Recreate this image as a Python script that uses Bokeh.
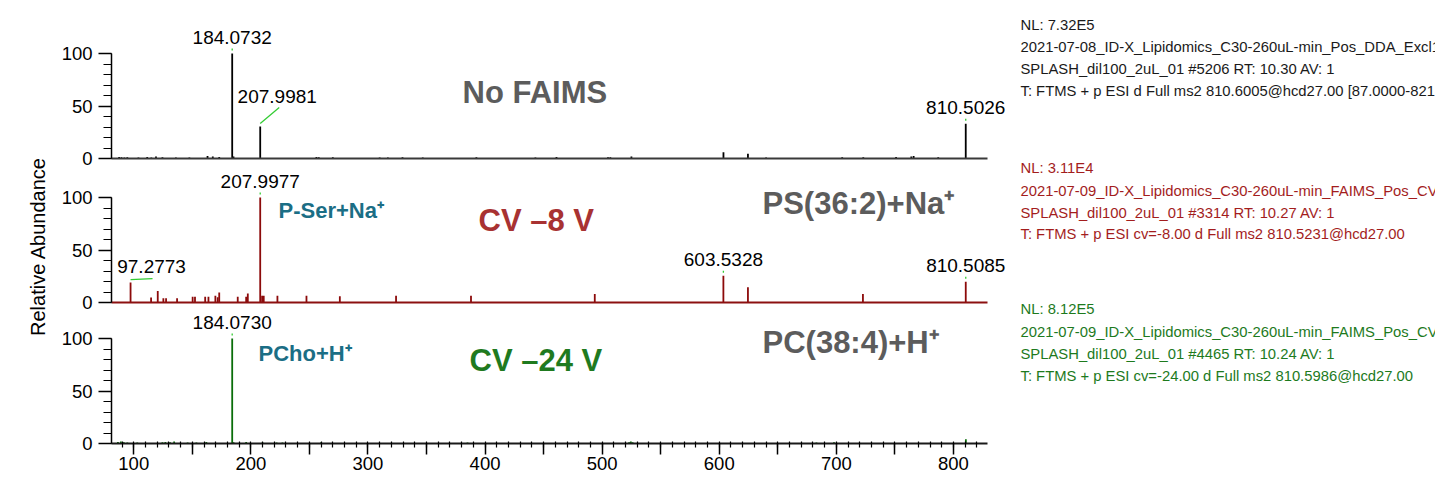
import math
from bokeh.plotting import figure
from bokeh.models import Range1d, SingleIntervalTicker, FixedTicker, Label, ColumnDataSource
from bokeh.layouts import row, column
from bokeh.embed import file_html
from bokeh.resources import INLINE
from bokeh.core.properties import value

# ---------------- data ----------------
NOFAIMS_MZ = [87.5, 89.5, 92.0, 94.5, 104.0, 111.5, 115.0, 119.0, 124.5, 136.0, 147.5, 163.0, 167.5,
              173.0, 184.0732, 185.2, 207.9981, 256.0, 258.0, 270.0, 310.0, 317.0, 329.5, 346.8, 392.6,
              443.0, 461.0, 505.0, 507.0, 525.0, 603.6, 624.5, 640.0, 705.0, 723.0, 751.0, 764.0, 766.0,
              787.0, 810.5026]
NOFAIMS_INT = [1.5, 1.2, 1.0, 1.2, 1.0, 1.5, 1.0, 1.8, 1.2, 1.0, 1.0, 2.5, 1.8,
               1.5, 100.0, 2.0, 30.5, 1.5, 1.2, 1.2, 1.0, 1.0, 1.2, 1.0, 1.2,
               1.0, 1.5, 1.2, 1.2, 2.0, 6.0, 4.5, 1.0, 1.2, 1.2, 1.5, 2.0, 2.5,
               1.2, 33.0]
NOFAIMS_LABELS = [184.0732, 207.9981, 810.5026]

CV8_MZ = [97.2773, 114.8, 120.5, 125.3, 127.6, 137.0, 150.3, 152.3, 161.0, 163.8, 169.7, 171.7, 173.0,
          188.8, 196.0, 197.4, 207.9977, 209.6, 211.0, 222.7, 247.5, 276.0, 324.0, 388.0, 493.7,
          603.5328, 624.5, 722.7, 810.5085]
CV8_INT = [19.0, 4.8, 11.0, 4.0, 4.0, 4.0, 5.5, 5.5, 5.5, 5.5, 6.5, 5.0, 9.5,
           5.5, 5.5, 8.5, 100.0, 6.5, 6.5, 6.5, 6.5, 6.0, 6.5, 6.5, 8.0,
           25.4, 14.5, 8.0, 19.7]
CV8_LABELS = [97.2773, 207.9977, 603.5328, 810.5085]

CV24_MZ = [86.5, 89.0, 91.5, 94.5, 103.0, 124.5, 127.0, 131.0, 134.5, 146.0, 153.5, 162.0, 184.0730,
           185.2, 196.0, 210.0, 222.0, 227.0, 260.0, 385.0, 523.0, 524.5, 526.0, 683.0, 698.0, 810.6]
CV24_INT = [1.5, 1.8, 1.2, 1.0, 1.0, 1.2, 1.5, 1.2, 1.8, 1.0, 1.0, 1.5, 100.0,
            1.2, 1.5, 1.0, 1.0, 1.0, 1.2, 1.0, 1.2, 1.8, 1.2, 1.0, 1.2, 4.0]
CV24_LABELS = [184.0730]

X_TICK_LABELS = {100: "100", 200: "200", 300: "300", 400: "400", 500: "500", 600: "600", 700: "700", 800: "800"}
X_TITLE = "m/z"
Y_TITLE = "Relative Abundance"

INFO_NOFAIMS = ["NL: 7.32E5",
                "2021-07-08_ID-X_Lipidomics_C30-260uL-min_Pos_DDA_Excl100",
                "SPLASH_dil100_2uL_01 #5206 RT: 10.30 AV: 1",
                "T: FTMS + p ESI d Full ms2 810.6005@hcd27.00 [87.0000-821.0000]"]
INFO_CV8 = ["NL: 3.11E4",
            "2021-07-09_ID-X_Lipidomics_C30-260uL-min_FAIMS_Pos_CV-8",
            "SPLASH_dil100_2uL_01 #3314 RT: 10.27 AV: 1",
            "T: FTMS + p ESI cv=-8.00 d Full ms2 810.5231@hcd27.00"]
INFO_CV24 = ["NL: 8.12E5",
             "2021-07-09_ID-X_Lipidomics_C30-260uL-min_FAIMS_Pos_CV-24",
             "SPLASH_dil100_2uL_01 #4465 RT: 10.24 AV: 1",
             "T: FTMS + p ESI cv=-24.00 d Full ms2 810.5986@hcd27.00"]

# ---------------- layout / style ----------------
FONT = "Liberation Sans"
X_MIN, X_MAX = 81.0, 829.0
PX_MZ = 1.171      # pixels per m/z unit
PX_INT = 1.05      # pixels per % relative abundance
TOTAL_H = 485
LABEL_W = 50       # strip holding the y title
MAIN_W = 960
RIGHT_W = 425
FRAME_LEFT = 111   # page x of the y axes
GRAY = "#5c5c5c"
TEAL = "#1b6e85"

x_range = Range1d(X_MIN, X_MIN + (LABEL_W + MAIN_W - FRAME_LEFT) / PX_MZ)

# label offset styles (screen px): text dx, dy ; connector dx, dy
LABEL_STYLE = {207.9981: (17, -30, 19, 16), 97.2773: (21, -16, 22, 1)}
DEFAULT_STYLE = (0, -16, 0, 2)


def mz_at(page_x):
    return X_MIN + (page_x - FRAME_LEFT) / PX_MZ


def style_yaxis(ax):
    ax.bounds = (0, 100)
    ax.ticker = SingleIntervalTicker(interval=50, num_minor_ticks=5)
    ax.major_tick_out = 13
    ax.major_tick_in = 0
    ax.minor_tick_out = 8
    ax.minor_tick_in = 0
    ax.axis_line_color = "black"
    ax.axis_line_width = 1.5
    ax.major_tick_line_width = 1.5
    ax.minor_tick_line_width = 1.2
    ax.major_label_text_font = FONT
    ax.major_label_text_font_size = "18.5px"
    ax.major_label_text_color = "black"
    ax.major_label_standoff = 6


def make_panel(height, top_page, zero_page, bottom_border, mzs, ints, labels, color, base_color):
    frame_h = zero_page - top_page
    p = figure(width=MAIN_W, height=height, x_range=x_range,
               y_range=Range1d(0, frame_h / PX_INT),
               output_backend="svg", toolbar_location=None,
               min_border_left=FRAME_LEFT - LABEL_W, min_border_right=0,
               min_border_top=0, min_border_bottom=bottom_border)
    p.grid.visible = False
    p.outline_line_color = None
    style_yaxis(p.yaxis[0])
    xa = p.xaxis[0]
    xa.bounds = (X_MIN, X_MAX)
    xa.axis_line_color = base_color
    xa.axis_line_width = 2.2

    src = ColumnDataSource(dict(mz=mzs, inten=ints))
    p.segment(x0="mz", y0=0, x1="mz", y1="inten", source=src, line_color=color, line_width=1.8)

    lookup = dict(zip(mzs, ints))
    lx, ly, lt, ldx, ldy = [], [], [], [], []
    cx0, cy0, cx1, cy1 = [], [], [], []
    for m in labels:
        inten = lookup[m]
        tdx, tdy, cdx, cdy = LABEL_STYLE.get(m, DEFAULT_STYLE)
        lx.append(m); ly.append(inten); lt.append(f"{m:.4f}")
        ldx.append(tdx); ldy.append(tdy)
        y0 = inten + 3 / PX_INT
        cx0.append(m); cy0.append(y0)
        cx1.append(m + cdx / PX_MZ); cy1.append(y0 + cdy / PX_INT)
    lsrc = ColumnDataSource(dict(x=lx, y=ly, t=lt, dx=ldx, dy=ldy))
    p.text(x="x", y="y", text="t", x_offset="dx", y_offset="dy", source=lsrc,
           text_align="center", text_baseline="middle", text_font=value(FONT),
           text_font_size="19px", text_color="black")
    csrc = ColumnDataSource(dict(x0=cx0, y0=cy0, x1=cx1, y1=cy1))
    p.segment(x0="x0", y0="y0", x1="x1", y1="y1", source=csrc, line_color="#33cc33", line_width=1.3)
    return p


def no_xticks(p):
    xa = p.xaxis[0]
    xa.ticker = FixedTicker(ticks=[])
    xa.major_tick_out = 0
    xa.major_tick_in = 0
    xa.minor_tick_out = 0
    xa.minor_tick_in = 0
    xa.major_label_text_font_size = "0px"
    xa.major_label_standoff = 0


def add_label(p, page_x, zero_page, page_y, text, color, size):
    p.add_layout(Label(x=mz_at(page_x), y=(zero_page - page_y) / PX_INT, text=text,
                       text_color=color, text_font=FONT, text_font_size=size,
                       text_font_style="bold", text_align="left", text_baseline="middle"))


# panel 1: No FAIMS  (page rows 0..168)
p1 = make_panel(168, 0, 158, 10, NOFAIMS_MZ, NOFAIMS_INT, NOFAIMS_LABELS, "black", "#3a3a3a")
no_xticks(p1)
add_label(p1, 462, 158, 92, "No FAIMS", GRAY, "31px")

# panel 2: CV -8 V  (page rows 168..312)
p2 = make_panel(144, 168, 302, 10, CV8_MZ, CV8_INT, CV8_LABELS, "#8c0a0a", "#8c1010")
no_xticks(p2)
add_label(p2, 478, 302, 220, "CV \u20138 V", "#a83232", "31px")
add_label(p2, 762, 302, 203, "PS(36:2)+Na\u207a", GRAY, "31px")
add_label(p2, 278, 302, 210, "P-Ser+Na\u207a", TEAL, "22px")

# panel 3: CV -24 V  (page rows 312..476)
P3_H = 164
p3 = make_panel(P3_H, 312, 443, 33, CV24_MZ, CV24_INT, CV24_LABELS, "#0a6e0a", "#1a1a1a")
xa = p3.xaxis[0]
xa.ticker = SingleIntervalTicker(interval=50, num_minor_ticks=5)
xa.major_label_overrides = {float(k): (X_TICK_LABELS.get(k, "")) for k in range(100, 851, 50)}
xa.major_tick_out = 11
xa.major_tick_in = 0
xa.minor_tick_out = 4
xa.minor_tick_in = 2
xa.major_tick_line_width = 1.5
xa.minor_tick_line_width = 1.2
xa.major_label_text_font = FONT
xa.major_label_text_font_size = "18.5px"
xa.major_label_text_color = "black"
xa.major_label_standoff = 2
add_label(p3, 469, 443, 360, "CV \u201324 V", "#1f7a1f", "31px")
add_label(p3, 762, 443, 342, "PC(38:4)+H\u207a", GRAY, "31px")
add_label(p3, 258, 443, 353, "PCho+H\u207a", TEAL, "22px")

# strip under panel 3 holding the (cut-off) x title
strip_h = TOTAL_H - 168 - 144 - P3_H
ps = figure(width=MAIN_W, height=strip_h, x_range=x_range, y_range=Range1d(0, strip_h),
            output_backend="svg", toolbar_location=None, min_border=0,
            min_border_left=FRAME_LEFT - LABEL_W, x_axis_location=None, y_axis_location=None)
ps.grid.visible = False
ps.outline_line_color = None
ps.text(x=[(X_MIN + X_MAX) / 2], y=[strip_h / 2], y_offset=7, text=[X_TITLE], text_align="center",
        text_baseline="middle", text_font=value(FONT), text_font_size="18.5px", text_color="black")

# strip at the left holding the y title
pl = figure(width=LABEL_W, height=TOTAL_H, x_range=Range1d(0, LABEL_W), y_range=Range1d(TOTAL_H, 0),
            output_backend="svg", toolbar_location=None, min_border=0,
            x_axis_location=None, y_axis_location=None)
pl.grid.visible = False
pl.outline_line_color = None
pl.text(x=[37], y=[246], text=[Y_TITLE], angle=math.pi / 2, text_align="center", text_baseline="middle",
        text_font=value(FONT), text_font_size="20px", text_color="black")

# right-hand scan information
pt = figure(width=RIGHT_W, height=TOTAL_H, x_range=Range1d(0, RIGHT_W), y_range=Range1d(TOTAL_H, 0),
            output_backend="svg", toolbar_location=None, min_border=0,
            x_axis_location=None, y_axis_location=None)
pt.grid.visible = False
pt.outline_line_color = None
tx, ty, tt, tc = [], [], [], []
for lines, ys, col in ((INFO_NOFAIMS, [24, 46, 68, 90], "#1a1a1a"),
                       (INFO_CV8, [167, 190, 212, 233], "#a31d1d"),
                       (INFO_CV24, [308, 331, 353, 375], "#1d7a1d")):
    for s, y in zip(lines, ys):
        tx.append(10); ty.append(y); tt.append(s); tc.append(col)
pt.text(x="x", y="y", text="t", text_color="c", source=ColumnDataSource(dict(x=tx, y=ty, t=tt, c=tc)),
        text_align="left", text_baseline="middle", text_font=value(FONT), text_font_size="14.8px")

layout = row(pl, column(p1, p2, p3, ps), pt)
open("out.html", "w").write(file_html(layout, INLINE))
